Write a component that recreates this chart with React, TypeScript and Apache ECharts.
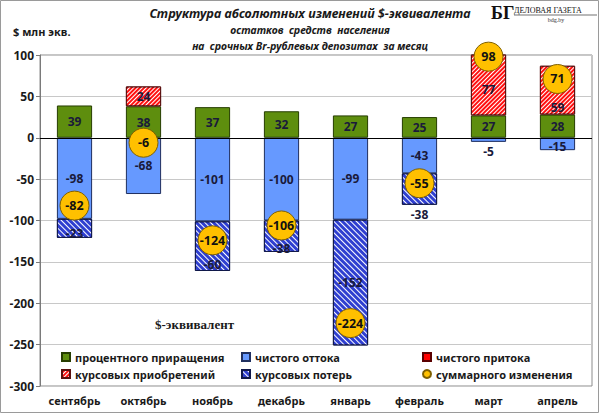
import React, { useEffect, useRef } from 'react';
import * as echarts from 'echarts';

const categories = ['сентябрь', 'октябрь', 'ноябрь', 'декабрь', 'январь', 'февраль', 'март', 'апрель'];
const interestGrowth = [39, 38, 37, 32, 27, 25, 27, 28];
const netOutflow = [-98, -68, -101, -100, -99, -43, -5, -15];
const netInflow: (number | null)[] = [null, null, null, null, null, null, null, null];
const fxGains: (number | null)[] = [null, 24, null, null, null, null, 77, 59];
const fxLosses: (number | null)[] = [-23, null, -60, -38, -152, -38, null, null];
const totalChange = [-82, -6, -124, -106, -224, -55, 98, 71];

const seriesNames = [
  'процентного приращения',
  'чистого оттока',
  'чистого притока',
  'курсовых приобретений',
  'курсовых потерь',
  'суммарного изменения',
];

const titleText = 'Структура абсолютных изменений $-эквивалента';
const subtitle1 = 'остатков  средств  населения';
const subtitle2 = 'на  срочных Br-рублевых депозитах  за месяц';
const unitText = '$ млн экв.';
const noteText = '$-эквивалент';

// label placement tweaks (style only)
const outflowLabelShift: Record<number, number> = { 7: 3 };
const outflowOutside = [6];
const gainLabelShift: Record<number, number> = { 6: 5, 7: 17 };
const lossLabelShift: Record<number, number> = { 0: 5, 2: 18, 3: 12 };
const lossOutside = [5];

const FONT = '"Noto Sans", "DejaVu Sans", sans-serif';
const LABEL_COLOR = '#1a1a3a';

function buildData(values: (number | null)[], shift: Record<number, number>, outside: number[]) {
  return values.map((v, i) => {
    if (v == null) return '-';
    if (outside.includes(i)) return { value: v, label: { position: 'outside', distance: 4 } };
    return { value: v, label: { offset: [0, shift[i] || 0] } };
  });
}

const baseLabel = {
  show: true,
  position: 'inside',
  color: LABEL_COLOR,
  fontFamily: FONT,
  fontWeight: 'bold',
  fontSize: 12,
};

export default function App() {
  const ref = useRef<HTMLDivElement>(null);
  useEffect(() => {
    document.body.style.margin = '0';
    if (!ref.current) return;
    const chart = echarts.init(ref.current, undefined, { renderer: 'svg' });
    const legendText = { fontFamily: FONT, fontSize: 11, fontWeight: 'bold', color: '#1a1a1a', lineHeight: 14 };
    const legendCommon = {
      orient: 'vertical',
      top: 350,
      padding: 0,
      itemWidth: 8,
      itemHeight: 8,
      itemGap: 3,
      textStyle: legendText,
      selectedMode: false,
    };
    const option: any = {
      animation: false,
      backgroundColor: '#ffffff',
      grid: { left: 40, right: 8, top: 55, bottom: 28, containLabel: false, outerBoundsMode: 'none', show: true, borderColor: '#8c8c8c', borderWidth: 1 },
      legend: [
        { ...legendCommon, left: 61, data: [{ name: seriesNames[0], icon: 'rect' }, { name: seriesNames[3], icon: 'rect' }] },
        { ...legendCommon, left: 241, data: [{ name: seriesNames[1], icon: 'rect' }, { name: seriesNames[4], icon: 'rect' }] },
        { ...legendCommon, left: 422, data: [{ name: seriesNames[2], icon: 'rect' }, { name: seriesNames[5], icon: 'circle' }] },
      ],
      xAxis: {
        type: 'category',
        data: categories,
        axisLine: { show: false },
        axisTick: { show: false },
        axisLabel: { fontFamily: FONT, fontWeight: 'bold', fontSize: 11, color: '#1a1a1a', margin: 9 },
      },
      yAxis: {
        type: 'value',
        min: -300,
        max: 100,
        interval: 50,
        axisLine: { show: true, lineStyle: { color: '#7a7a7a', width: 1 } },
        axisTick: { show: true, length: 4, lineStyle: { color: '#7a7a7a' } },
        splitLine: { show: true, lineStyle: { color: '#c8c8c8', width: 1 } },
        axisLabel: { fontFamily: FONT, fontWeight: 'bold', fontSize: 12, color: '#1a1a1a', margin: 6 },
      },
      series: [
        {
          name: seriesNames[0],
          type: 'bar',
          stack: 'total',
          barWidth: '51%',
          data: interestGrowth,
          itemStyle: { color: '#5E8E0E', borderColor: '#263d00', borderWidth: 1 },
          label: baseLabel,
          markLine: {
            silent: true,
            symbol: 'none',
            label: { show: false },
            lineStyle: { color: '#000000', width: 1, type: 'solid' },
            data: [{ yAxis: 0 }],
          },
        },
        {
          name: seriesNames[1],
          type: 'bar',
          stack: 'total',
          data: buildData(netOutflow, outflowLabelShift, outflowOutside),
          itemStyle: { color: '#6699FF', borderColor: '#1f2f5f', borderWidth: 1 },
          label: baseLabel,
        },
        {
          name: seriesNames[2],
          type: 'bar',
          stack: 'total',
          data: netInflow.map((v) => (v == null ? '-' : v)),
          itemStyle: { color: '#FF0000', borderColor: '#5a0000', borderWidth: 1 },
          label: baseLabel,
        },
        {
          name: seriesNames[3],
          type: 'bar',
          stack: 'total',
          data: buildData(fxGains, gainLabelShift, []),
          itemStyle: {
            color: '#FF1010',
            borderColor: '#5a1010',
            borderWidth: 1,
            decal: {
              symbol: 'rect',
              symbolSize: 1,
              color: '#ffffff',
              dashArrayX: [1, 0],
              dashArrayY: [1, 2],
              rotation: -Math.PI / 4,
            },
          },
          label: baseLabel,
        },
        {
          name: seriesNames[4],
          type: 'bar',
          stack: 'total',
          data: buildData(fxLosses, lossLabelShift, lossOutside),
          itemStyle: {
            color: '#2F3FD0',
            borderColor: '#10184a',
            borderWidth: 1,
            decal: {
              symbol: 'rect',
              symbolSize: 1,
              color: '#ffffff',
              dashArrayX: [1, 0],
              dashArrayY: [1, 3],
              rotation: Math.PI / 4,
            },
          },
          label: baseLabel,
        },
        {
          name: seriesNames[5],
          type: 'scatter',
          data: totalChange,
          symbol: 'circle',
          symbolSize: 29,
          z: 5,
          itemStyle: { color: '#FFC000', borderColor: '#7F6000', borderWidth: 1, opacity: 1 },
          label: { ...baseLabel, color: '#111111', fontSize: 12.5, formatter: (p: any) => String(p.value) },
        },
      ],
      graphic: [
        {
          type: 'rect',
          silent: true,
          shape: { x: 0.5, y: 0.5, width: 598, height: 412 },
          style: { fill: 'none', stroke: '#9a9a9a', lineWidth: 1 },
        },
        {
          type: 'text',
          x: 310,
          y: 13,
          style: { text: titleText, align: 'center', verticalAlign: 'middle', fontFamily: FONT, fontWeight: 'bold', fontStyle: 'italic', fontSize: 12.6, fill: '#1a1a1a' },
        },
        {
          type: 'text',
          x: 310,
          y: 30,
          style: { text: subtitle1, align: 'center', verticalAlign: 'middle', fontFamily: FONT, fontStyle: 'italic', fontWeight: 'bold', fontSize: 10.5, fill: '#1a1a1a' },
        },
        {
          type: 'text',
          x: 310,
          y: 46,
          style: { text: subtitle2, align: 'center', verticalAlign: 'middle', fontFamily: FONT, fontStyle: 'italic', fontWeight: 'bold', fontSize: 10.5, fill: '#1a1a1a' },
        },
        {
          type: 'text',
          x: 13,
          y: 31,
          style: { text: unitText, align: 'left', verticalAlign: 'middle', fontFamily: FONT, fontWeight: 'bold', fontSize: 11, fill: '#1a1a1a' },
        },
        {
          type: 'text',
          x: 155,
          y: 324,
          style: { text: noteText, align: 'left', verticalAlign: 'middle', fontFamily: '"Liberation Serif", "DejaVu Serif", serif', fontWeight: 'bold', fontSize: 13, fill: '#1a1a1a' },
        },
        {
          type: 'text',
          x: 491,
          y: 13,
          style: { text: 'БГ', align: 'left', verticalAlign: 'middle', fontFamily: '"Liberation Serif", serif', fontWeight: 'bold', fontSize: 18, fill: '#111111' },
        },
        {
          type: 'text',
          x: 514,
          y: 10,
          style: { text: 'ДЕЛОВАЯ ГАЗЕТА', align: 'left', verticalAlign: 'middle', fontFamily: '"Liberation Serif", serif', fontSize: 8, fill: '#111111' },
        },
        {
          type: 'line',
          silent: true,
          shape: { x1: 514, y1: 15, x2: 597, y2: 15 },
          style: { stroke: '#111111', lineWidth: 0.6 },
        },
        {
          type: 'text',
          x: 556,
          y: 20,
          style: { text: 'bdg.by', align: 'center', verticalAlign: 'middle', fontFamily: '"Liberation Serif", serif', fontSize: 6, fill: '#333333' },
        },
      ],
    };
    chart.setOption(option);
    return () => chart.dispose();
  }, []);
  return <div ref={ref} style={{ width: 600, height: 414 }} />;
}
